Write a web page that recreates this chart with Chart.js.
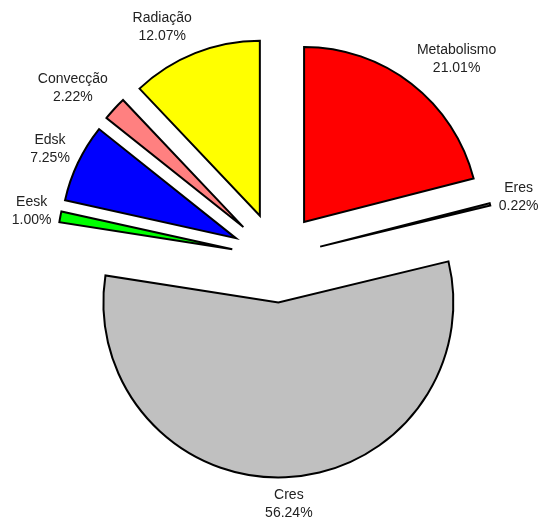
<!DOCTYPE html>
<html>
<head>
<meta charset="utf-8">
<script src="https://cdn.jsdelivr.net/npm/chart.js@4"></script>
<style>
  html, body { margin: 0; padding: 0; background: #fff; }
</style>
</head>
<body>
<canvas id="pie" width="544" height="527"></canvas>
<script>
// Balanço térmico — parcelas em %
const categories  = ["Metabolismo", "Eres", "Cres", "Eesk", "Edsk", "Convecção", "Radiação"];
const shares      = [21.01, 0.22, 56.24, 1.00, 7.25, 2.22, 12.07];
const sliceColors = ["#ff0000", "#ffffff", "#c0c0c0", "#00ff00", "#0000ff", "#ff8080", "#ffff00"];

const EXPLODE   = 45;   // distância (px) que cada fatia é afastada do centro
const LABEL_GAP = 9;
const FONT      = "14px 'Liberation Sans', Arial, sans-serif";
const LINE_H    = 18;

// afasta cada arco ao longo da sua bissetriz (sem mexer no raio)
const explodePlugin = {
  id: "explode",
  afterDatasetsUpdate(chart) {
    chart.getDatasetMeta(0).data.forEach(arc => {
      const mid = (arc.startAngle + arc.endAngle) / 2;
      arc.x += Math.cos(mid) * EXPLODE;
      arc.y += Math.sin(mid) * EXPLODE;
    });
  }
};

// nome + percentagem fora de cada fatia
const labelPlugin = {
  id: "sliceLabels",
  afterDraw(chart) {
    const ctx = chart.ctx;
    const clamp = v => Math.max(-1, Math.min(1, v));
    ctx.save();
    ctx.font = FONT;
    ctx.fillStyle = "#222";
    ctx.textAlign = "center";
    ctx.textBaseline = "middle";
    chart.getDatasetMeta(0).data.forEach((arc, i) => {
      const lines = [categories[i], shares[i].toFixed(2) + "%"];
      const mid = (arc.startAngle + arc.endAngle) / 2;
      const dx = Math.cos(mid), dy = Math.sin(mid);
      const r = arc.outerRadius + LABEL_GAP;
      const w = Math.max(...lines.map(t => ctx.measureText(t).width));
      const h = LINE_H * 2;
      // a caixa do texto encosta ao ponto de ancoragem pelo lado virado para a fatia
      const cx = arc.x + dx * r + clamp(dx * 3) * w / 2;
      const cy = arc.y + dy * r + clamp(dy * 1.2) * h / 2;
      ctx.fillText(lines[0], cx, cy - LINE_H / 2);
      ctx.fillText(lines[1], cx, cy + LINE_H / 2);
    });
    ctx.restore();
  }
};

new Chart(document.getElementById("pie"), {
  type: "pie",
  data: {
    labels: categories,
    datasets: [{
      data: shares,
      backgroundColor: sliceColors,
      borderColor: "#000",
      borderWidth: 2,
      borderJoinStyle: "miter",
      radius: 175,
      hoverOffset: 0
    }]
  },
  options: {
    responsive: false,
    animation: false,
    events: [],
    layout: { padding: { left: 9, right: 0, top: 0, bottom: 12 } },
    plugins: {
      legend: { display: false },
      tooltip: { enabled: false }
    }
  },
  plugins: [explodePlugin, labelPlugin]
});
</script>
</body>
</html>
